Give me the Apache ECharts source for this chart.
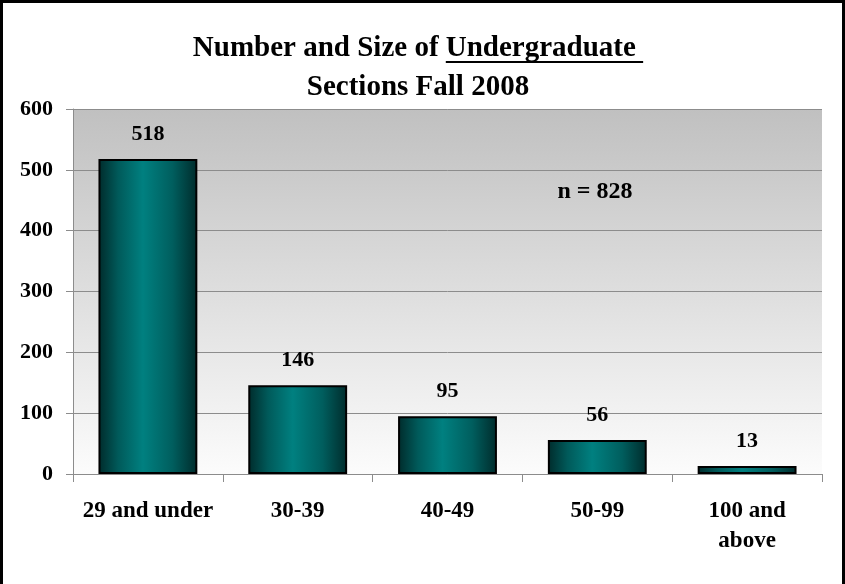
<!DOCTYPE html>
<html><head><meta charset="utf-8">
<script src="https://cdn.jsdelivr.net/npm/echarts@6/dist/echarts.min.js"></script>
<style>html,body{margin:0;padding:0;background:#fff}#c{width:845px;height:584px}</style>
</head><body><div id="c"></div>
<script>
const categories = ['29 and under', '30-39', '40-49', '50-99', '100 and\nabove'];
const sections = [518, 146, 95, 56, 13];
const yTicks = { min: 0, max: 600, interval: 100 };
const titleStart = 'Number and Size of ';
const titleUnderlined = 'Undergraduate ';
const titleLine2 = 'Sections Fall 2008';
const noteText = 'n = 828';

const FAM = '"Liberation Serif", "Times New Roman", serif';
const TITLE_FONT = 'bold 29px ' + FAM;
const cx = 418;

const mctx = document.createElement('canvas').getContext('2d');
mctx.font = TITLE_FONT;
const wStart = mctx.measureText(titleStart).width;
const wUnder = mctx.measureText(titleUnderlined).width;
const wLine1 = wStart + wUnder;
const x0 = cx - wLine1 / 2;

const chart = echarts.init(document.getElementById('c'));
const barGrad = new echarts.graphic.LinearGradient(0, 0, 1, 0, [
  { offset: 0, color: '#002b2b' },
  { offset: 0.2, color: '#005a5a' },
  { offset: 0.45, color: '#008080' },
  { offset: 0.75, color: '#005e5e' },
  { offset: 1, color: '#002b2b' }
]);
chart.setOption({
  animation: false,
  grid: {
    left: 73, right: 23, top: 109, bottom: 110, show: true, borderWidth: 0,
    backgroundColor: new echarts.graphic.LinearGradient(0, 0, 0, 1, [
      { offset: 0, color: '#c0c0c0' }, { offset: 1, color: '#fcfcfc' }
    ])
  },
  xAxis: {
    type: 'category', data: categories,
    axisLine: { lineStyle: { color: '#8c8c8c', width: 1 } },
    axisTick: { show: true, length: 8, lineStyle: { color: '#8c8c8c' } },
    axisLabel: { fontFamily: FAM, fontWeight: 'bold', fontSize: 23, color: '#000', margin: 22, lineHeight: 30, interval: 0 }
  },
  yAxis: {
    type: 'value', min: yTicks.min, max: yTicks.max, interval: yTicks.interval,
    axisLine: { show: true, lineStyle: { color: '#8c8c8c' } },
    axisTick: { show: true, length: 7, lineStyle: { color: '#8c8c8c' } },
    splitLine: { lineStyle: { color: '#8c8c8c', width: 1 } },
    axisLabel: { fontFamily: FAM, fontWeight: 'bold', fontSize: 22, color: '#000', margin: 20 }
  },
  series: [{
    type: 'bar', data: sections, barCategoryGap: '34%',
    itemStyle: { color: barGrad, borderColor: '#000', borderWidth: 2 },
    label: { show: true, position: 'top', distance: 14, fontFamily: FAM, fontWeight: 'bold', fontSize: 22, color: '#000' }
  }],
  graphic: [
    { type: 'rect', shape: { x: 1.5, y: 1.5, width: 842, height: 600 }, style: { fill: 'none', stroke: '#000', lineWidth: 3 }, z: 100 },
    { type: 'text', x: cx, y: 49, style: { text: titleStart + titleUnderlined, font: TITLE_FONT, fill: '#000', align: 'center', verticalAlign: 'middle' } },
    { type: 'line', shape: { x1: x0 + wStart, y1: 62, x2: x0 + wLine1, y2: 62 }, style: { stroke: '#000', lineWidth: 2 } },
    { type: 'text', x: cx, y: 88, style: { text: titleLine2, font: TITLE_FONT, fill: '#000', align: 'center', verticalAlign: 'middle' } },
    { type: 'text', x: 595, y: 192, style: { text: noteText, font: 'bold 24px ' + FAM, fill: '#000', align: 'center', verticalAlign: 'middle' } }
  ]
});
</script></body></html>
